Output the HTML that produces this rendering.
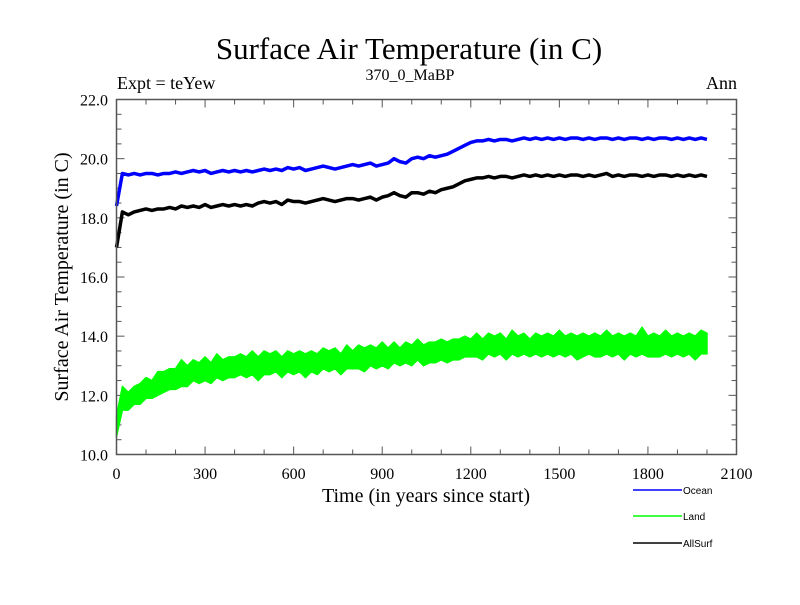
<!DOCTYPE html>
<html><head><meta charset="utf-8"><style>
body{margin:0;background:#fff}
svg text{font-family:"Liberation Serif",serif;fill:#000}
.lg{font-family:"Liberation Sans",sans-serif;font-size:10px}
</style></head><body>
<svg id="chart" width="800" height="600" xmlns="http://www.w3.org/2000/svg">
<rect width="800" height="600" fill="#fff"/>
<text x="409" y="59" font-size="31" text-anchor="middle">Surface Air Temperature (in C)</text>
<text x="117" y="89" font-size="18">Expt = teYew</text>
<text x="410" y="80" font-size="16" text-anchor="middle">370_0_MaBP</text>
<text x="737" y="89" font-size="18" text-anchor="end">Ann</text>
<text transform="translate(68,277) rotate(-90)" font-size="20" text-anchor="middle">Surface Air Temperature (in C)</text>
<text x="426" y="502" font-size="20" text-anchor="middle">Time (in years since start)</text>
<g id="axes"></g>
<g id="series"></g>
<rect x="116.5" y="99.5" width="620" height="355" fill="none" stroke="#555" stroke-width="1.5"/>
<g>
<line x1="633" y1="490" x2="682" y2="490" stroke="#0000ff" stroke-width="1.5"/>
<text class="lg" x="683" y="494">Ocean</text>
<line x1="633" y1="516" x2="682" y2="516" stroke="#00ff00" stroke-width="1.5"/>
<text class="lg" x="683" y="520">Land</text>
<line x1="633" y1="543" x2="682" y2="543" stroke="#000" stroke-width="1.5"/>
<text class="lg" x="683" y="547">AllSurf</text>
</g>
</svg>
<script>
const years = [];
for (let i = 0; i <= 100; i++) years.push(i * 20);
const xTicks = [0,300,600,900,1200,1500,1800,2100];
const yTicks = [10,12,14,16,18,20,22];
const yTickLabels = ["10.0","12.0","14.0","16.0","18.0","20.0","22.0"];
const landHi = [11.3,12.3,12.1,12.3,12.4,12.6,12.5,12.8,12.8,12.9,12.9,13.2,13.0,13.2,13.1,13.3,13.1,13.4,13.2,13.3,
13.3,13.4,13.3,13.5,13.3,13.5,13.4,13.5,13.3,13.5,13.4,13.5,13.4,13.5,13.4,13.6,13.5,13.6,13.4,13.7,
13.5,13.7,13.6,13.7,13.6,13.8,13.6,13.8,13.6,13.8,13.7,13.9,13.7,13.8,13.8,13.9,13.8,13.9,13.9,14.0,
13.9,14.1,13.9,14.1,14.0,14.1,13.9,14.2,14.0,14.1,13.9,14.1,14.0,14.1,14.0,14.2,14.0,14.1,14.0,14.1,
14.0,14.1,14.0,14.2,14.0,14.1,14.0,14.1,14.0,14.3,14.0,14.1,14.0,14.2,14.0,14.1,14.0,14.1,14.0,14.2,14.1];
const landLo = [10.6,11.5,11.5,11.7,11.7,11.9,11.9,12.0,12.1,12.2,12.2,12.3,12.3,12.5,12.4,12.5,12.4,12.6,12.5,12.6,
12.6,12.7,12.6,12.7,12.5,12.7,12.7,12.8,12.6,12.8,12.7,12.8,12.6,12.8,12.7,12.9,12.8,12.9,12.7,12.9,
12.9,12.9,12.8,13.0,12.9,13.0,12.9,13.1,13.0,13.1,13.0,13.2,13.0,13.1,13.1,13.2,13.1,13.2,13.2,13.3,
13.3,13.3,13.2,13.4,13.3,13.4,13.2,13.4,13.3,13.4,13.3,13.4,13.3,13.4,13.3,13.4,13.3,13.4,13.2,13.3,
13.4,13.3,13.3,13.4,13.3,13.4,13.2,13.4,13.3,13.4,13.3,13.3,13.3,13.4,13.3,13.4,13.3,13.4,13.2,13.4,13.4];
const ocean = [18.4,19.5,19.45,19.5,19.45,19.5,19.5,19.45,19.5,19.5,19.55,19.5,19.55,19.6,19.55,19.6,19.5,19.55,19.6,19.55,
19.6,19.55,19.6,19.55,19.6,19.65,19.6,19.65,19.6,19.7,19.65,19.7,19.6,19.65,19.7,19.75,19.7,19.65,19.7,19.75,
19.8,19.75,19.8,19.85,19.75,19.8,19.85,20.0,19.9,19.85,20.0,20.05,20.0,20.1,20.05,20.1,20.15,20.25,20.35,20.45,
20.55,20.6,20.6,20.65,20.6,20.65,20.65,20.6,20.65,20.7,20.65,20.7,20.65,20.7,20.65,20.7,20.65,20.7,20.7,20.65,
20.7,20.65,20.7,20.7,20.65,20.7,20.65,20.7,20.7,20.65,20.7,20.65,20.7,20.7,20.65,20.7,20.65,20.7,20.65,20.7,20.65];
const allsurf = [17.0,18.2,18.1,18.2,18.25,18.3,18.25,18.3,18.3,18.35,18.3,18.4,18.35,18.4,18.35,18.45,18.35,18.4,18.45,18.4,
18.45,18.4,18.45,18.4,18.5,18.55,18.5,18.55,18.45,18.6,18.55,18.55,18.5,18.55,18.6,18.65,18.6,18.55,18.6,18.65,
18.65,18.6,18.65,18.7,18.6,18.7,18.75,18.85,18.75,18.7,18.85,18.85,18.8,18.9,18.85,18.95,19.0,19.05,19.15,19.25,
19.3,19.35,19.35,19.4,19.35,19.4,19.4,19.35,19.4,19.45,19.4,19.45,19.4,19.45,19.4,19.45,19.4,19.45,19.45,19.4,
19.45,19.4,19.45,19.5,19.4,19.45,19.4,19.45,19.45,19.4,19.45,19.4,19.45,19.45,19.4,19.45,19.4,19.45,19.4,19.45,19.4];

const NS = "http://www.w3.org/2000/svg";
const X0 = 116.5, X1 = 736.5, Y0 = 454.5, Y1 = 99.5;
function xs(v){ return X0 + (v - 0) / 2100 * (X1 - X0); }
function ys(v){ return Y0 - (v - 10) / 12 * (Y0 - Y1); }
function mk(tag, attrs){ const e = document.createElementNS(NS, tag); for (const k in attrs) e.setAttribute(k, attrs[k]); return e; }
const axes = document.getElementById('axes');
for (let v = 0; v <= 2100; v += 100) {
  const major = v % 300 === 0;
  const len = major ? 8 : 5;
  const t1 = mk('line', {x1: xs(v), x2: xs(v), y1: Y0, y2: Y0 - len, stroke: '#555', 'stroke-width': 1});
  
  
  axes.appendChild(t1);
  const t2 = mk('line', {x1: xs(v), x2: xs(v), y1: Y1, y2: Y1 + len, stroke: '#555', 'stroke-width': 1});
  
  
  axes.appendChild(t2);
}
xTicks.forEach(v => {
  const t = mk('text', {x: xs(v), y: 479, 'font-size': 16, 'text-anchor': 'middle'});
  t.textContent = String(v);
  
  
  axes.appendChild(t);
});
for (let v = 10; v <= 22.001; v += 0.5) {
  const major = Math.abs(v - Math.round(v / 2) * 2) < 1e-6;
  const len = major ? 8 : 5;
  const t1 = mk('line', {x1: X0, x2: X0 + len, y1: ys(v), y2: ys(v), stroke: '#555', 'stroke-width': 1});
  
  
  axes.appendChild(t1);
  const t2 = mk('line', {x1: X1, x2: X1 - len, y1: ys(v), y2: ys(v), stroke: '#555', 'stroke-width': 1});
  
  
  axes.appendChild(t2);
}
yTicks.forEach((v, i) => {
  const t = mk('text', {x: 108, y: ys(v) + 6, 'font-size': 16, 'text-anchor': 'end'});
  t.textContent = yTickLabels[i];
  
  
  axes.appendChild(t);
});
const series = document.getElementById('series');
// land band
let bd = landHi.map((v, i) => (i ? 'L' : 'M') + xs(years[i]).toFixed(2) + ',' + ys(v).toFixed(2)).join('');
for (let i = landLo.length - 1; i >= 0; i--) bd += 'L' + xs(years[i]).toFixed(2) + ',' + ys(landLo[i]).toFixed(2);
bd += 'Z';
const band = mk('path', {d: bd, fill: '#00ff00', stroke: '#00ff00', 'stroke-width': 1.5, 'stroke-linejoin': 'round'});


series.appendChild(band);
function draw(vals, color, w, name){
  const d = vals.map((v, i) => (i ? 'L' : 'M') + xs(years[i]).toFixed(2) + ',' + ys(v).toFixed(2)).join('');
  const p = mk('path', {d: d, fill: 'none', stroke: color, 'stroke-width': w, 'stroke-linejoin': 'round'});
  
  
  series.appendChild(p);
}
draw(ocean, '#0000ff', 3.5, 'ocean-line');
draw(allsurf, '#000000', 3.5, 'allsurf-line');
</script>
</body></html>
